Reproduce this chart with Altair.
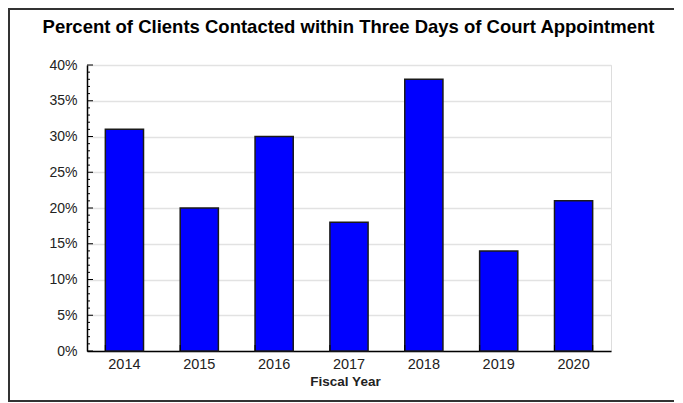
import altair as alt
import pandas as pd

years = ["2014", "2015", "2016", "2017", "2018", "2019", "2020"]
percent = [0.31, 0.20, 0.30, 0.18, 0.38, 0.14, 0.21]
major_ticks = [0.00, 0.05, 0.10, 0.15, 0.20, 0.25, 0.30, 0.35, 0.40]
minor_ticks = [i / 100 for i in range(0, 41) if i % 5 != 0]

title_text = "Percent of Clients Contacted within Three Days of Court Appointment"
FONT = "Liberation Sans"

bars_df = pd.DataFrame({"year": years, "pct": percent})
major_df = pd.DataFrame({"v": major_ticks})
minor_df = pd.DataFrame({"v": minor_ticks})
xt_df = pd.DataFrame({"year": years})
frame_df = pd.DataFrame({"a": [1]})
title_df = pd.DataFrame({"t": [title_text]})

x_scale = alt.Scale(paddingInner=0.49, paddingOuter=0.245)
y_scale = alt.Scale(domain=[0, 0.4], nice=False)

x_axis = alt.Axis(title="Fiscal Year", labelAngle=0, tickSize=0,
                  domainColor="#000000", domainWidth=1.5,
                  labelFont=FONT, labelFontSize=14.5, labelColor="#222222",
                  labelPadding=6, titleFont=FONT, titleFontSize=13.5,
                  titleFontWeight="bold", titleColor="#222222", titlePadding=4,
                  titleX=258)
y_axis = alt.Axis(title=None, format=".0%", values=major_ticks, tickSize=0,
                  domainColor="#000000", domainWidth=1.5,
                  grid=True, gridColor="#e2e2e2", gridWidth=1.5,
                  labelFont=FONT, labelFontSize=14, labelColor="#222222",
                  labelPadding=10)

bars = alt.Chart(bars_df).mark_bar(
    color="#0000ff", stroke="#1a1a1a", strokeWidth=1.5
).encode(
    x=alt.X("year:N", scale=x_scale, sort=years, axis=x_axis),
    y=alt.Y("pct:Q", scale=y_scale, axis=y_axis),
)

ymajor = alt.Chart(major_df).mark_rule(color="#000000", strokeWidth=1).encode(
    y=alt.Y("v:Q", scale=y_scale, axis=y_axis), x=alt.value(0), x2=alt.value(6)
)
yminor = alt.Chart(minor_df).mark_rule(color="#000000", strokeWidth=1).encode(
    y=alt.Y("v:Q", scale=y_scale, axis=y_axis), x=alt.value(0), x2=alt.value(3)
)
xticks = alt.Chart(xt_df).mark_rule(color="#000000", strokeWidth=1).encode(
    x=alt.X("year:N", scale=x_scale, sort=years, bandPosition=0, axis=x_axis),
    y=alt.value(286), y2=alt.value(280)
)
xticks_end = alt.Chart(xt_df.tail(1)).mark_rule(color="#000000", strokeWidth=1).encode(
    x=alt.X("year:N", scale=x_scale, sort=years, bandPosition=1, axis=x_axis),
    y=alt.value(286), y2=alt.value(280)
)
frame_top = alt.Chart(frame_df).mark_rule(color="#333333", strokeWidth=2).encode(
    x=alt.value(-79), x2=alt.value(587), y=alt.value(-56)
)
frame_bottom = alt.Chart(frame_df).mark_rule(color="#333333", strokeWidth=2).encode(
    x=alt.value(-79), x2=alt.value(587), y=alt.value(336)
)
frame_left = alt.Chart(frame_df).mark_rule(color="#333333", strokeWidth=2).encode(
    x=alt.value(-78), y=alt.value(-57), y2=alt.value(337)
)
title = alt.Chart(title_df).mark_text(
    font=FONT, fontSize=18.5, fontWeight="bold", color="#000000",
    align="center", baseline="alphabetic"
).encode(
    text="t:N", x=alt.value(261.5), y=alt.value(-32)
)

chart = alt.layer(bars, ymajor, yminor, xticks, xticks_end,
                  frame_top, frame_bottom, frame_left, title).properties(
    width=524, height=286,
    autosize=alt.AutoSizeParams(type="none"),
    padding={"left": 79, "top": 57, "right": 64, "bottom": 52},
).configure_view(stroke="transparent", strokeWidth=0).configure(background="#ffffff")

chart.save("out.html", embed_options={"renderer": "svg", "actions": False})
